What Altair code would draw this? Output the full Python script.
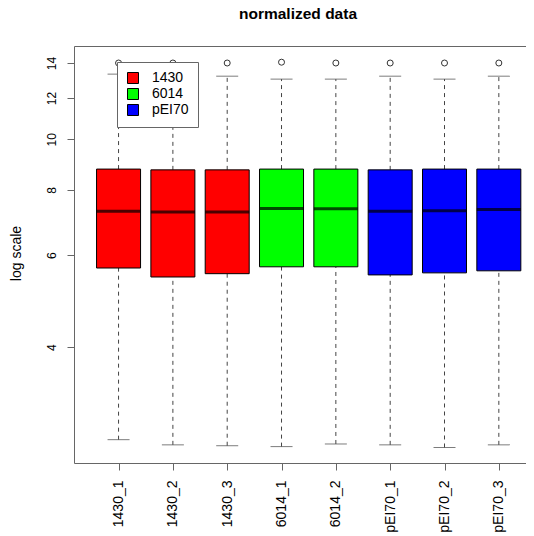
import altair as alt
import pandas as pd

samples = ["1430_1", "1430_2", "1430_3", "6014_1", "6014_2", "pEI70_1", "pEI70_2", "pEI70_3"]
groups = ["1430", "1430", "1430", "6014", "6014", "pEI70", "pEI70", "pEI70"]
lower = [2.66, 2.60, 2.59, 2.58, 2.61, 2.60, 2.57, 2.60]
q1 = [5.67, 5.45, 5.53, 5.70, 5.70, 5.50, 5.55, 5.60]
median = [7.28, 7.26, 7.26, 7.37, 7.36, 7.28, 7.30, 7.34]
q3 = [8.77, 8.74, 8.74, 8.77, 8.77, 8.74, 8.77, 8.77]
upper = [13.33, 13.39, 13.21, 13.04, 13.04, 13.21, 13.04, 13.21]
outlier = [14.0, 14.0, 14.0, 14.05, 14.0, 14.0, 14.0, 14.0]
group_names = ["1430", "6014", "pEI70"]
group_colors = ["#FF0000", "#00FF00", "#0000FF"]
y_ticks = [4, 6, 8, 10, 12, 14]

df = pd.DataFrame({
    "sample": samples, "group": groups, "idx": list(range(1, len(samples) + 1)),
    "lower": lower, "q1": q1, "median": median, "q3": q3, "upper": upper, "outlier": outlier,
})

FONT = "Liberation Sans"
FRAME = "#666666"
label_expr = "[" + ",".join("'" + s + "'" for s in samples) + "][datum.value - 1]"

x_scale = alt.Scale(domain=[0.18, 8.50], nice=False, zero=False, padding=0)
y_scale = alt.Scale(type="log", domain=[2.40, 15.09], nice=False, padding=0)

x_bottom = alt.Axis(orient="bottom", values=list(range(1, len(samples) + 1)), labelExpr=label_expr,
                    labelAngle=-90, labelAlign="right", labelBaseline="middle",
                    labelPadding=10, tickSize=7, grid=False, title=None,
                    domainColor=FRAME, tickColor=FRAME, labelColor="black",
                    labelFontSize=14, labelFont=FONT)
x_top = alt.Axis(orient="top", labels=False, ticks=False, grid=False, title=None,
                 domainColor=FRAME)
y_axis = alt.Axis(orient="left", values=y_ticks, labelAngle=-90, labelAlign="center",
                  labelBaseline="alphabetic", labelPadding=12, tickSize=7, grid=False,
                  title="log scale", titleX=-54, titleY=207, titleAngle=-90,
                  titleAlign="center", titleBaseline="alphabetic",
                  titleFontWeight="normal", titleFontSize=14, titleFont=FONT,
                  titleColor="black", domainColor=FRAME, tickColor=FRAME,
                  labelColor="black", labelFontSize=12, labelFont=FONT)


def yenc(field):
    return alt.Y(field + ":Q", scale=y_scale, axis=y_axis, title="log scale")


base = alt.Chart(df)

whisk_hi = base.mark_rule(color="#444444", strokeDash=[4, 4], strokeWidth=1).encode(
    x=alt.X("idx:Q", scale=x_scale, axis=x_bottom),
    y=yenc("q3"),
    y2="upper:Q",
)
whisk_lo = base.mark_rule(color="#444444", strokeDash=[4, 4], strokeWidth=1).encode(
    x=alt.X("idx:Q", scale=x_scale, axis=x_top),
    y=yenc("lower"),
    y2="q1:Q",
)
cap_hi = base.mark_tick(orient="horizontal", size=22, thickness=1, color="#444444").encode(
    x=alt.X("idx:Q", scale=x_scale, axis=None),
    y=yenc("upper"),
)
cap_lo = base.mark_tick(orient="horizontal", size=22, thickness=1, color="#444444").encode(
    x=alt.X("idx:Q", scale=x_scale, axis=None),
    y=yenc("lower"),
)
boxes = base.mark_bar(size=44, stroke="black", strokeWidth=1).encode(
    x=alt.X("idx:Q", scale=x_scale, axis=None),
    y=yenc("q1"),
    y2="q3:Q",
    color=alt.Color("group:N", scale=alt.Scale(domain=group_names, range=group_colors),
                    legend=alt.Legend(title=None, orient="none", legendX=43, legendY=16,
                                      symbolType="square", symbolSize=121,
                                      symbolStrokeColor="black", symbolStrokeWidth=1,
                                      symbolOpacity=1,
                                      labelFontSize=14, labelFont=FONT, labelColor="black",
                                      labelOffset=12, rowPadding=0, padding=9,
                                      fillColor="white", strokeColor=FRAME)),
)
medians = base.mark_tick(orient="horizontal", size=44, thickness=3, color="black").encode(
    x=alt.X("idx:Q", scale=x_scale, axis=None),
    y=yenc("median"),
)
outliers = base.mark_point(shape="circle", filled=False, size=36, color="#333333",
                           strokeWidth=1, opacity=1).encode(
    x=alt.X("idx:Q", scale=x_scale, axis=None),
    y=yenc("outlier"),
)

chart = alt.layer(whisk_hi, whisk_lo, cap_hi, cap_lo, boxes, medians, outliers).resolve_axis(
    x="independent"
).properties(
    width=452, height=417,
    title=alt.TitleParams("normalized data", fontSize=15.5, fontWeight="bold", font=FONT,
                          anchor="middle", offset=24, dx=-2, color="black"),
    autosize=alt.AutoSizeParams(type="none"),
    padding={"left": 66, "top": 38, "right": 0, "bottom": 73},
).configure_view(strokeWidth=0, stroke="transparent")

chart.save("out.html", embed_options={"renderer": "svg", "actions": False})
